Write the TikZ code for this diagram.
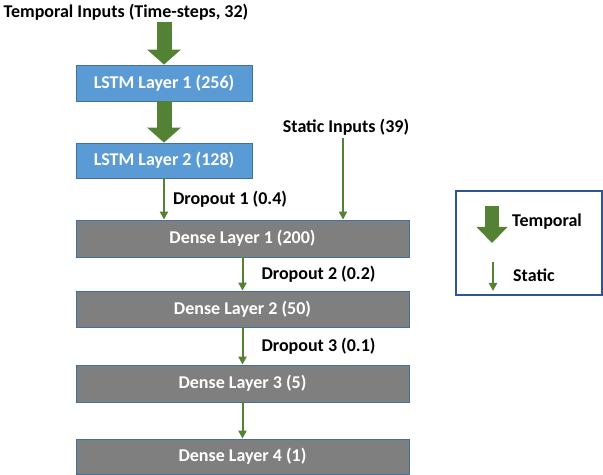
\documentclass[tikz,border=0pt]{standalone}
\usepackage{fontspec}
\setmainfont{Carlito}
\usetikzlibrary{arrows.meta}
\definecolor{layerblue}{HTML}{5B9BD5}
\definecolor{edgeblue}{HTML}{41719C}
\definecolor{layergray}{HTML}{7F7F7F}
\definecolor{flowgreen}{HTML}{548235}
\definecolor{legendblue}{HTML}{2F5597}
\tikzset{
  lbl/.style={font=\fontsize{18bp}{21bp}\selectfont\bfseries, inner sep=0pt, text=black},
  lstmbox/.style={draw=edgeblue, line width=0.8bp, fill=layerblue, text=white,
    font=\fontsize{18bp}{21bp}\selectfont\bfseries, minimum width=176bp, minimum height=36bp, inner sep=0pt},
  densebox/.style={draw=edgeblue, line width=0.8bp, fill=layergray, text=white,
    font=\fontsize{18bp}{21bp}\selectfont\bfseries, minimum width=333bp, minimum height=36bp, inner sep=0pt},
  temporalflow/.style={draw=flowgreen, line width=15bp, -{Triangle[width=33bp,length=15bp]}},
  staticflow/.style={draw=flowgreen, line width=2bp, -{Triangle[width=8bp,length=8bp]}},
}
\begin{document}
\begin{tikzpicture}[x=1bp, y=-1bp]
\useasboundingbox (0,0) rectangle (603,475);

% inputs
\node[lbl] (tin) at (126,12) {Temporal Inputs (Time-steps, 32)};
\node[lbl] (sin) at (346,127) {Static Inputs (39)};
\coordinate (sx) at (343,138);

% layers
\node[lstmbox] (l1) at (164,83) {LSTM Layer 1 (256)};
\node[lstmbox, minimum height=35bp] (l2) at (164,160.5) {LSTM Layer 2 (128)};
\node[densebox, minimum height=37bp] (d1) at (242.5,238.5) {Dense Layer 1 (200)};
\node[densebox] (d2) at (242.5,309) {Dense Layer 2 (50)};
\node[densebox, minimum height=37bp] (d3) at (242.5,383.5) {Dense Layer 3 (5)};
\node[densebox, minimum height=35bp] (d4) at (242.5,456.5) {Dense Layer 4 (1)};

% temporal path
\draw[temporalflow] (l1.north |- 0,22) -- (l1.north);
\draw[temporalflow] (l1.south) -- (l2.north);

% static and dense path
\draw[staticflow] (l2.south) -- (l2.south |- d1.north)
  node[lbl, midway, anchor=west, xshift=8bp] {Dropout 1 (0.4)};
\draw[staticflow] (sx) -- (sx |- d1.north);
\draw[staticflow] (d1.south) -- (d2.north)
  node[lbl, midway, anchor=west, xshift=18bp] {Dropout 2 (0.2)};
\draw[staticflow] (d2.south) -- (d3.north)
  node[lbl, midway, anchor=west, xshift=18bp] {Dropout 3 (0.1)};
\draw[staticflow] (d3.south) -- (d4.north);

% legend
\node[draw=legendblue, line width=2bp, minimum width=146bp, minimum height=104bp, inner sep=0pt] (leg) at (529,243) {};
\coordinate (lt0) at (492,206);
\coordinate (lt1) at (492,243);
\draw[draw=flowgreen, line width=14bp, -{Triangle[width=30bp,length=16bp]}] (lt0) -- (lt1);
\node[lbl, anchor=west] (ltemp) at (512,222) {Temporal};
\coordinate (ls0) at (493,262);
\coordinate (ls1) at (493,291);
\draw[staticflow] (ls0) -- (ls1);
\node[lbl, anchor=west] (lstat) at (513,275) {Static};
\end{tikzpicture}
\end{document}
